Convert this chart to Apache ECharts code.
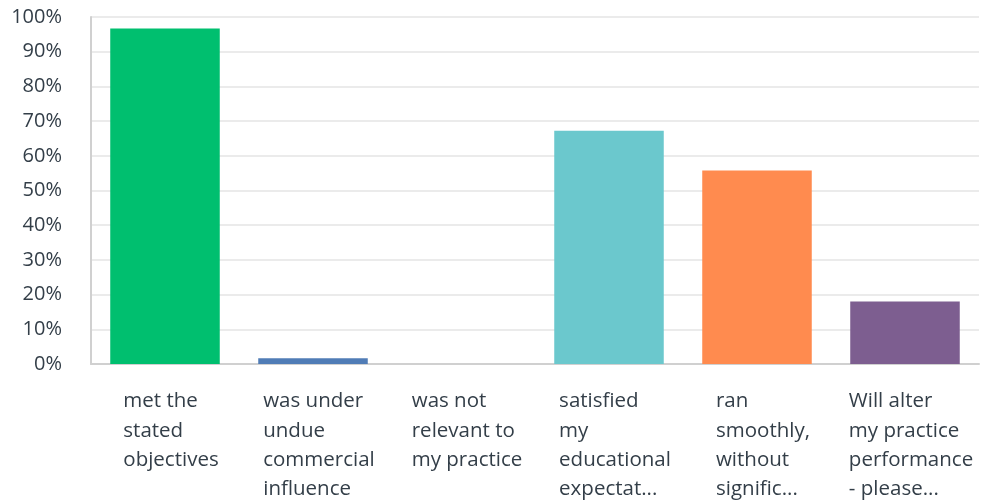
<!DOCTYPE html>
<html>
<head>
<meta charset="utf-8">
<script src="https://cdn.jsdelivr.net/npm/echarts@6/dist/echarts.min.js"></script>
<style>
html, body { margin: 0; padding: 0; background: #fff; }
#chart { width: 982px; height: 502px; }
</style>
</head>
<body>
<div id="chart"></div>
<script>
// answer choices and share of respondents (%)
var categories = [
  "met the\nstated\nobjectives",
  "was under\nundue\ncommercial\ninfluence",
  "was not\nrelevant to\nmy practice",
  "satisfied\nmy\neducational\nexpectat...",
  "ran\nsmoothly,\nwithout\nsignific...",
  "Will alter\nmy practice\nperformance\n- please..."
];
var values = [96.72, 1.64, 0, 67.21, 55.74, 18.03];
var colors = ["#00bf6f", "#507cb6", "#f9be00", "#6bc8cd", "#ff8b4f", "#7d5e90"];
var yTicks = [0, 10, 20, 30, 40, 50, 60, 70, 80, 90, 100];

var textColor = "#333e48";
var font = "Open Sans";

var chart = echarts.init(document.getElementById("chart"));
chart.setOption({
  animation: false,
  grid: { left: 91, right: 3, top: 17, bottom: 138 },
  xAxis: {
    type: "category",
    data: categories,
    axisTick: { show: false },
    axisLine: { lineStyle: { color: "#d0d0d0", width: 2 } },
    axisLabel: {
      interval: 0,
      margin: 23,
      padding: [0, 0, 0, 12],
      formatter: function (v) { return "{a|" + v.split("\n").join("}\n{a|") + "}"; },
      rich: {
        a: { align: "left", fontSize: 20.5, lineHeight: 29.3, color: textColor, fontFamily: font }
      }
    }
  },
  yAxis: {
    type: "value",
    min: yTicks[0],
    max: yTicks[yTicks.length - 1],
    interval: 10,
    axisLine: { show: true, lineStyle: { color: "#d0d0d0", width: 2 } },
    axisTick: { show: false },
    splitLine: { lineStyle: { color: "#ebebeb", width: 2 } },
    axisLabel: {
      margin: 29,
      fontSize: 20,
      color: textColor,
      fontFamily: font,
      formatter: "{value}%"
    }
  },
  series: [{
    type: "bar",
    data: values.map(function (v, i) {
      return { value: v, itemStyle: { color: colors[i] } };
    }),
    barCategoryGap: "26%"
  }]
});
</script>
</body>
</html>
